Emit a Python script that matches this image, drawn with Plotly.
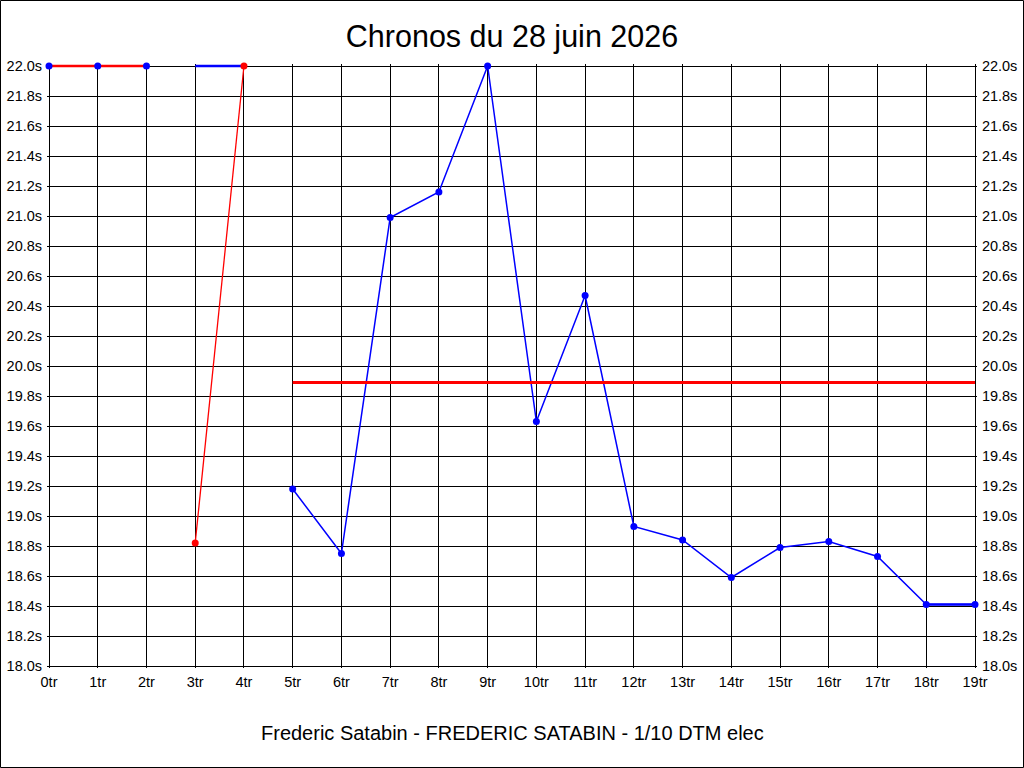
import plotly.graph_objects as go

# lap numbers and lap times (s)
laps = list(range(20))
lap_labels = [f"{i}tr" for i in laps]
times = [22.0, 22.0, 22.0, 18.82, 22.0, 19.18, 18.75, 20.99, 21.16, 22.0,
         19.63, 20.47, 18.93, 18.84, 18.59, 18.79, 18.83, 18.73, 18.41, 18.41]

# laps drawn in red (rejected) / blue (valid)
red_laps = [3, 4]
blue_laps = [0, 1, 2] + list(range(5, 20))
capped_laps = [3, 4]          # blue flat segment at the top of the scale
capped_time = 22.0
avg_laps = [5, 19]
avg_time = 19.89

y_min, y_max = 18.0, 22.0
x_min, x_max = 0, 19

W, H = 1024, 768
L, R, T, B = 47, 47, 64, 100
pw, ph = W - L - R, H - T - B

# pad the ranges by two pixels so the frame grid lines are kept and not clipped
ypad = 2 * (y_max - y_min) / (ph - 4)
xpad = 2 * (x_max - x_min) / (pw - 4)

FONT = "Liberation Sans, Arial, sans-serif"

fig = go.Figure()

# red thick line on the first laps
fig.add_trace(go.Scatter(x=laps[0:3], y=times[0:3], mode="lines",
                         line=dict(color="#ff0000", width=2.5), hoverinfo="skip"))
# blue flat capped segment
fig.add_trace(go.Scatter(x=capped_laps, y=[capped_time] * len(capped_laps), mode="lines",
                         line=dict(color="#0000ff", width=2.5), hoverinfo="skip"))
# red thin rejected segment
fig.add_trace(go.Scatter(x=red_laps, y=[times[i] for i in red_laps], mode="lines+markers",
                         line=dict(color="#ff0000", width=1.3), cliponaxis=False,
                         marker=dict(color="#ff0000", size=7)))
# blue main line
fig.add_trace(go.Scatter(x=laps[5:], y=times[5:], mode="lines",
                         line=dict(color="#0000ff", width=1.5)))
fig.add_trace(go.Scatter(x=laps[18:], y=times[18:], mode="lines",
                         line=dict(color="#0000ff", width=2.5), hoverinfo="skip"))
# blue markers
fig.add_trace(go.Scatter(x=blue_laps, y=[times[i] for i in blue_laps], mode="markers",
                         cliponaxis=False, marker=dict(color="#0000ff", size=7)))
# average line
fig.add_trace(go.Scatter(x=avg_laps, y=[avg_time, avg_time], mode="lines",
                         line=dict(color="#ff0000", width=3), hoverinfo="skip"))
# dummy trace for the right axis
fig.add_trace(go.Scatter(x=[0], y=[y_min], yaxis="y2", mode="markers",
                         marker=dict(opacity=0), hoverinfo="skip"))

yticks = [round(y_min + 0.2 * k, 1) for k in range(21)]
ylabels = [f"{v:.1f}s" for v in yticks]

axis_font = dict(family=FONT, size=14.5, color="black")
yrange = [y_min - ypad, y_max + ypad]

fig.update_layout(
    width=W, height=H,
    margin=dict(l=L, r=R, t=T, b=B, autoexpand=False),
    paper_bgcolor="white", plot_bgcolor="white",
    showlegend=False,
    title=dict(text="Chronos du 28 juin 2026", x=0.5, xanchor="center",
               y=1 - 36 / H, yanchor="middle",
               font=dict(family=FONT, size=30.5, color="black")),
    xaxis=dict(range=[x_min - xpad, x_max + xpad], tickvals=laps, ticktext=lap_labels,
               showgrid=True, gridcolor="black", gridwidth=1,
               showline=False, zeroline=False, automargin=False,
               ticks="outside", ticklen=1, tickcolor="rgba(0,0,0,0)",
               tickfont=axis_font),
    yaxis=dict(range=yrange, tickvals=yticks, ticktext=ylabels,
               showgrid=True, gridcolor="black", gridwidth=1,
               showline=False, zeroline=False, automargin=False,
               ticks="outside", ticklen=1, tickcolor="rgba(0,0,0,0)",
               tickfont=axis_font),
    yaxis2=dict(range=yrange, tickvals=yticks, ticktext=ylabels,
                overlaying="y", side="right", showgrid=False,
                showline=False, zeroline=False, automargin=False,
                ticks="outside", ticklen=1, tickcolor="rgba(0,0,0,0)",
                tickfont=axis_font),
    annotations=[dict(text="Frederic Satabin - FREDERIC SATABIN - 1/10 DTM elec",
                      xref="paper", yref="paper", x=0.5, y=-(733 - 668) / ph,
                      xanchor="center", yanchor="middle", showarrow=False,
                      font=dict(family=FONT, size=20, color="black"))],
    shapes=[dict(type="rect", xref="paper", yref="paper",
                 x0=-(L - 0.5) / pw, x1=1 + (R - 0.5) / pw,
                 y0=-(B - 0.5) / ph, y1=1 + (T - 0.5) / ph,
                 line=dict(color="black", width=1), layer="above")],
)

fig.write_html("out.html", config={"displayModeBar": False},
               post_script="document.body.style.margin='0';document.body.style.overflow='hidden';")
